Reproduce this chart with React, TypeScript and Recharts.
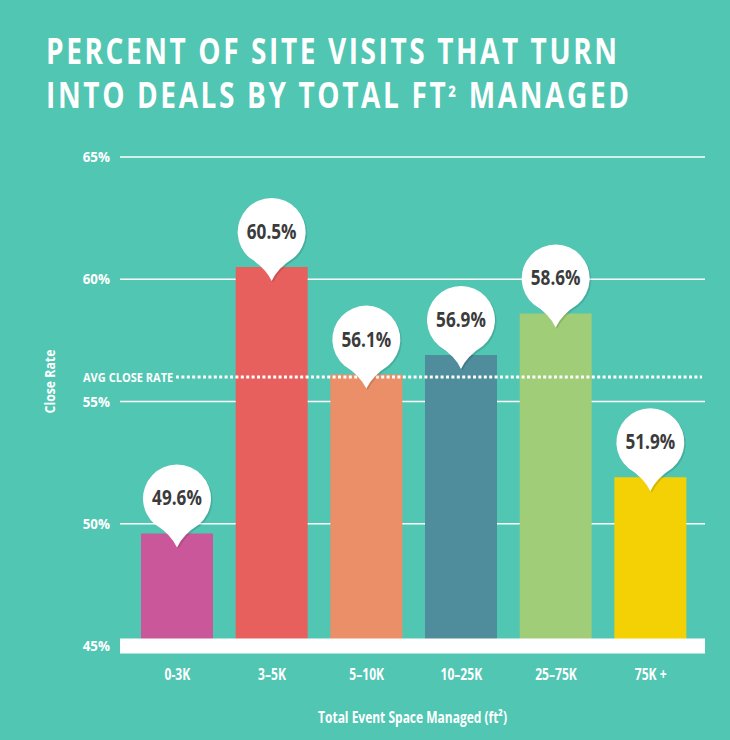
import { Bar, BarChart, CartesianGrid, Cell, Label, LabelList, ReferenceLine, XAxis, YAxis } from 'recharts';

const categories = ['0-3K', '3–5K', '5–10K', '10–25K', '25–75K', '75K +'];
const closeRates = [49.6, 60.5, 56.1, 56.9, 58.6, 51.9];
const yTicks = [45, 50, 55, 60, 65];
const avgCloseRate = 56.0;

const barColors = ['#C9579A', '#E8605E', '#EB8F68', '#4F8D9C', '#9FCD78', '#F3D104'];
const BG = '#51C6B3';
const FONT = "'Open Sans', 'DejaVu Sans', sans-serif";

const data = categories.map((name, i) => ({ name, rate: closeRates[i] }));

// 가로로 눌린(condensed) 굵은 글꼴 흉내: scaleX 로 좁힌다
function CText(props: any) {
  const { x, y, sx = 0.8, anchor = 'start', size = 14, fill = '#fff', dy = '0.36em', children, ...rest } = props;
  return (
    <text
      transform={`translate(${x} ${y}) scale(${sx} 1)`}
      textAnchor={anchor}
      dy={dy}
      fontFamily={FONT}
      fontWeight="bold"
      fontSize={size}
      fill={fill}
      {...rest}
    >
      {children}
    </text>
  );
}

// 값 라벨: 막대 위에 핀 모양 말풍선
function Balloon(props: any) {
  const { x, y, width, value } = props;
  const cx = x + width / 2;
  const cy = y - 35;
  const r = 34;
  const a = (40 * Math.PI) / 180;
  const sx = r * Math.sin(a);
  const sy = r * Math.cos(a);
  const tip = cy + 49;
  const path = `M ${cx - sx} ${cy + sy} A ${r} ${r} 0 1 1 ${cx + sx} ${cy + sy} Q ${cx + 6} ${cy + 36} ${cx} ${tip} Q ${cx - 6} ${cy + 36} ${cx - sx} ${cy + sy} Z`;
  return (
    <g>
      <path d={path} fill="#000" opacity={0.12} transform="translate(1.5,1.5)" />
      <path d={path} fill="#fff" />
      <CText x={cx} y={cy - 1} sx={0.78} anchor="middle" size={22} fill="#3b3b3b">
        {`${value}%`}
      </CText>
    </g>
  );
}

function AvgLine(props: any) {
  const { x1, y1, x2 } = props;
  return (
    <g>
      <line x1={x1 + 56} x2={x2 - 3} y1={y1} y2={y1} stroke="#fff" strokeWidth={3} strokeDasharray="3 2.4" />
      <CText x={x1 - 37} y={y1} sx={0.85} size={13}>
        AVG CLOSE RATE
      </CText>
    </g>
  );
}

function XTick(props: any) {
  const { x, y, payload } = props;
  return (
    <CText x={x} y={y} sx={0.78} anchor="middle" size={15.5} dy="0.71em">
      {payload.value}
    </CText>
  );
}

function YTick(props: any) {
  const { x, y, payload } = props;
  return (
    <CText x={x} y={y} sx={0.92} anchor="end" size={14.5}>
      {`${payload.value}%`}
    </CText>
  );
}

export default function App() {
  return (
    <div style={{ position: 'absolute', left: 0, top: 0, width: 730, height: 740, background: BG }}>
      <BarChart width={730} height={740} data={data} margin={{ top: 157, right: 25, bottom: 34, left: 40 }}>
        <CartesianGrid vertical={false} stroke="#fff" strokeWidth={1.3} />
        <XAxis
          dataKey="name"
          height={60}
          axisLine={false}
          tickLine={false}
          tickSize={0}
          tickMargin={23}
          padding={{ left: 10, right: 7 }}
          tick={XTick}
        >
          <Label
            content={({ viewBox }: any) => (
              <CText x={viewBox.x + viewBox.width / 2} y={717} sx={0.75} anchor="middle" size={16}>
                Total Event Space Managed (ft²)
              </CText>
            )}
          />
        </XAxis>
        <YAxis
          width={80}
          domain={[45, 65]}
          ticks={yTicks}
          allowDataOverflow
          axisLine={false}
          tickLine={false}
          tickSize={0}
          tickMargin={10}
          tick={YTick}
        >
          <Label
            content={({ viewBox }: any) => {
              const lx = viewBox.x + 10;
              const ly = viewBox.y + viewBox.height / 2 - 20;
              return (
                <g transform={`rotate(-90 ${lx} ${ly})`}>
                  <CText x={lx} y={ly} sx={0.82} anchor="middle" size={15}>
                    Close Rate
                  </CText>
                </g>
              );
            }}
          />
        </YAxis>
        <Bar dataKey="rate" barSize={72} isAnimationActive={false}>
          {data.map((d, i) => (
            <Cell key={d.name} fill={barColors[i]} />
          ))}
          <LabelList dataKey="rate" content={Balloon} />
        </Bar>
        <ReferenceLine y={avgCloseRate} shape={AvgLine} />
        <ReferenceLine y={45} stroke="#fff" strokeWidth={15} />
      </BarChart>
      <svg width={730} height={130} style={{ position: 'absolute', left: 0, top: 0, pointerEvents: 'none' }}>
        <g fontFamily={FONT} fontWeight="bold" fill="#fff" fontSize={35}>
          <g transform="translate(46 64) scale(0.8 1)">
            <text x={0} y={0} textLength={571 / 0.8} lengthAdjust="spacing">
              PERCENT OF SITE VISITS THAT TURN
            </text>
          </g>
          <g transform="translate(46 108) scale(0.8 1)">
            <text x={0} y={0} textLength={583 / 0.8} lengthAdjust="spacing">
              INTO DEALS BY TOTAL FT<tspan fontSize={26}>²</tspan> MANAGED
            </text>
          </g>
        </g>
      </svg>
    </div>
  );
}
